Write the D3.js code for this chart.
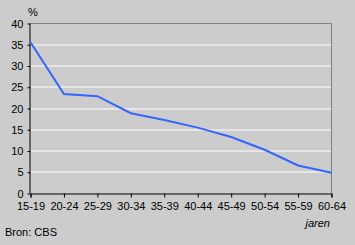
<!DOCTYPE html>
<html><head><meta charset="utf-8">
<script src="https://cdn.jsdelivr.net/npm/d3@7"></script>
<style>body{margin:0;background:#cccccc;}svg{display:block;}text{font-family:"Liberation Sans",Arial,sans-serif;font-size:11px;fill:#000;}</style>
</head><body>
<svg id="c" width="355" height="245"></svg>
<script>
const categories = ["15-19","20-24","25-29","30-34","35-39","40-44","45-49","50-54","55-59","60-64"];
const values = [35.6, 23.4, 22.9, 18.9, 17.3, 15.5, 13.3, 10.3, 6.6, 4.9];
const yTicks = [0,5,10,15,20,25,30,35,40];

const svg = d3.select("#c");
const L = 30.5, R = 331.5, T = 23.5, B = 193.5;
const x = d3.scalePoint().domain(categories).range([L, R]);
const y = d3.scaleLinear().domain([0,40]).range([B, T]);

svg.append("rect").attr("width",355).attr("height",245).attr("fill","#cccccc");

// gridlines
svg.append("g").selectAll("line").data(yTicks.filter(d=>d>0 && d<40)).join("line")
  .attr("x1",L).attr("x2",R).attr("y1",d=>Math.round(y(d))+0.5-0.5).attr("y2",d=>Math.round(y(d))+0.5-0.5)
  .attr("stroke","#ffffff").attr("stroke-width",1);

// frame top/right
svg.append("path").attr("d",`M${L},${T}H${R}V${B}`).attr("fill","none").attr("stroke","#808080");

// y axis
const ya = svg.append("g").attr("transform",`translate(${L},0)`)
  .call(d3.axisLeft(y).tickValues(yTicks).tickSize(3).tickPadding(4));
// x axis
const xa = svg.append("g").attr("transform",`translate(0,${B})`)
  .call(d3.axisBottom(x).tickSize(4).tickPadding(5));
[ya,xa].forEach(a=>{a.select(".domain").attr("stroke","#000");a.selectAll(".tick line").attr("stroke","#000");
  a.selectAll("text").attr("font-size",11).attr("font-family","Liberation Sans, Arial, sans-serif");});
ya.select(".domain").attr("d",`M-0.5,${T}V${B}`);

// line
svg.append("path").datum(values)
  .attr("d", d3.line().x((d,i)=>x(categories[i])).y(d=>y(d)))
  .attr("fill","none").attr("stroke","#3366ff").attr("stroke-width",2);

svg.append("text").attr("x",28).attr("y",16).text("%");
svg.append("text").attr("x",330).attr("y",227).attr("text-anchor","end").attr("font-style","italic").text("jaren");
svg.append("text").attr("x",5).attr("y",236).text("Bron: CBS");
</script>
</body></html>
